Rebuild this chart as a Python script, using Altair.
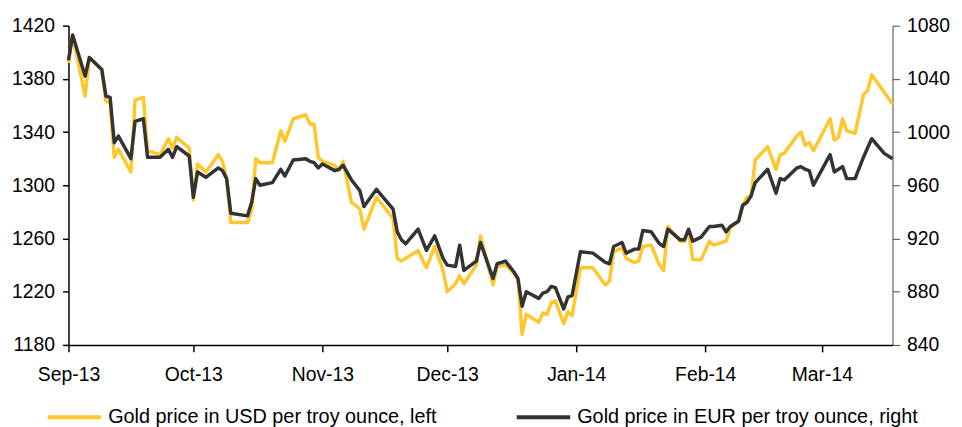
import altair as alt
import pandas as pd

USD_LABEL = "Gold price in USD per troy ounce, left"
EUR_LABEL = "Gold price in EUR per troy ounce, right"

dates = [
    "2013-09-01", "2013-09-02", "2013-09-05", "2013-09-06", "2013-09-09", "2013-09-10",
    "2013-09-11", "2013-09-12", "2013-09-13", "2013-09-16", "2013-09-17", "2013-09-19",
    "2013-09-20", "2013-09-23", "2013-09-25", "2013-09-26", "2013-09-27", "2013-09-30",
    "2013-10-01", "2013-10-02", "2013-10-04", "2013-10-07", "2013-10-08", "2013-10-09",
    "2013-10-10", "2013-10-14", "2013-10-15", "2013-10-16", "2013-10-17", "2013-10-20",
    "2013-10-22", "2013-10-23", "2013-10-25", "2013-10-28", "2013-10-29", "2013-10-30",
    "2013-10-31", "2013-11-01", "2013-11-04", "2013-11-05", "2013-11-06", "2013-11-08",
    "2013-11-09", "2013-11-10", "2013-11-11", "2013-11-14", "2013-11-18", "2013-11-19",
    "2013-11-20", "2013-11-21", "2013-11-24", "2013-11-26", "2013-11-28", "2013-11-30",
    "2013-12-01", "2013-12-03", "2013-12-04", "2013-12-05", "2013-12-08", "2013-12-09",
    "2013-12-12", "2013-12-13", "2013-12-15", "2013-12-17", "2013-12-18", "2013-12-19",
    "2013-12-20", "2013-12-23", "2013-12-24", "2013-12-25", "2013-12-26", "2013-12-27",
    "2013-12-29", "2013-12-30", "2013-12-31", "2014-01-02", "2014-01-05", "2014-01-08",
    "2014-01-09", "2014-01-10", "2014-01-12", "2014-01-13", "2014-01-15", "2014-01-16",
    "2014-01-17", "2014-01-19", "2014-01-21", "2014-01-22", "2014-01-23", "2014-01-26",
    "2014-01-27", "2014-01-28", "2014-01-29", "2014-01-31", "2014-02-02", "2014-02-03",
    "2014-02-05", "2014-02-06", "2014-02-07", "2014-02-09", "2014-02-10", "2014-02-11",
    "2014-02-12", "2014-02-13", "2014-02-16", "2014-02-18", "2014-02-19", "2014-02-20",
    "2014-02-23", "2014-02-24", "2014-02-25", "2014-02-26", "2014-02-27", "2014-03-03",
    "2014-03-04", "2014-03-05", "2014-03-06", "2014-03-07", "2014-03-09", "2014-03-11",
    "2014-03-12", "2014-03-13", "2014-03-16", "2014-03-18",
]

usd = [
    1392, 1413, 1367, 1396, 1387, 1363,
    1362, 1321, 1327, 1310, 1364, 1366,
    1326, 1323, 1335, 1328, 1336, 1328,
    1289, 1316, 1310, 1323, 1318, 1305,
    1272, 1272, 1281, 1320, 1317, 1317,
    1341, 1333, 1350, 1353, 1346, 1346,
    1321, 1318, 1315, 1311, 1318, 1287,
    1285, 1282, 1267, 1291, 1275, 1245,
    1243, 1245, 1251, 1238, 1254, 1236,
    1220, 1226, 1232, 1226, 1240, 1262,
    1225, 1239, 1240, 1234, 1229, 1188,
    1203, 1197, 1204, 1203, 1212, 1213,
    1196, 1205, 1202, 1238, 1238, 1225,
    1228, 1250, 1253, 1245, 1242, 1243,
    1254, 1255, 1240, 1236, 1269, 1258,
    1258, 1266, 1244, 1244, 1258, 1255,
    1257, 1258, 1268, 1273, 1285, 1291,
    1291, 1319, 1329, 1312, 1323, 1324,
    1337, 1340, 1330, 1332, 1326, 1350,
    1334, 1336, 1350, 1341, 1339, 1368,
    1371, 1383, 1370, 1361,
]

eur = [
    1054, 1073, 1042, 1056, 1047, 1027,
    1026, 992, 997, 980, 1008, 1010,
    981, 981, 987, 981, 989, 982,
    951, 970, 966, 973, 971, 965,
    939, 937, 947, 965, 960, 962,
    972, 967, 979, 980, 978, 977,
    973, 976, 971, 972, 975, 964,
    960, 956, 944, 957, 942, 925,
    919, 916, 927, 911, 922, 905,
    900, 899, 915, 896, 903, 917,
    890, 901, 903, 895, 890, 869,
    880, 875, 879, 880, 884, 883,
    867, 876, 877, 910, 909, 902,
    901, 914, 917, 909, 912, 912,
    926, 925, 916, 914, 927, 919,
    919, 927, 918, 921, 929, 929,
    930, 925, 929, 933, 945, 947,
    952, 962, 972, 954, 965, 964,
    973, 974, 972, 971, 960, 983,
    970, 972, 974, 965, 965, 981,
    988, 995, 984, 980,
]

usd_ticks = [1180, 1220, 1260, 1300, 1340, 1380, 1420]
eur_ticks = [840, 880, 920, 960, 1000, 1040, 1080]
month_ticks = [(2013, 9), (2013, 10), (2013, 11), (2013, 12), (2014, 1), (2014, 2), (2014, 3)]

FONT = "Liberation Sans"
YELLOW = "#FFC72C"
DARK = "#333333"

ts = [d + "T00:00:00" for d in dates]
long_df = pd.concat([
    pd.DataFrame({"date": ts, "value": usd, "series": USD_LABEL}),
    pd.DataFrame({"date": ts, "value": eur, "series": EUR_LABEL}),
], ignore_index=True)

x_enc = alt.X(
    "date:T",
    scale=alt.Scale(domain=[alt.DateTime(year=2013, month=9, date=1),
                            alt.DateTime(year=2014, month=3, date=18)]),
    axis=alt.Axis(
        values=[alt.DateTime(year=y, month=m, date=1) for y, m in month_ticks],
        format="%b-%y", title=None, grid=False, tickSize=7, labelPadding=14,
        labelFontSize=19.5, labelFont=FONT, labelColor="black",
        domainColor="black", tickColor="black", domainWidth=1.5, tickWidth=1.5,
        labelFlush=False, labelOverlap=False,
    ),
)

color_enc = alt.Color(
    "series:N",
    scale=alt.Scale(domain=[USD_LABEL, EUR_LABEL], range=[YELLOW, DARK]),
    legend=alt.Legend(
        orient="none", legendX=-23, legendY=366, direction="horizontal", columns=2,
        title=None, symbolType="stroke", symbolSize=2916, symbolStrokeWidth=4,
        labelFontSize=20, labelFont=FONT, labelColor="black", labelLimit=1000,
        labelOffset=5, columnPadding=72, padding=0,
    ),
)

base = alt.Chart(long_df)

usd_line = base.transform_filter(alt.datum.series == USD_LABEL).mark_line(
    strokeWidth=3.5, strokeJoin="round"
).encode(
    x=x_enc,
    y=alt.Y("value:Q",
            scale=alt.Scale(domain=[1180, 1420], nice=False, zero=False),
            axis=alt.Axis(values=usd_ticks, format="d", title=None, grid=False, orient="left",
                          tickSize=6, labelPadding=8, labelFontSize=19.5, labelFont=FONT,
                          labelColor="black", domainColor="black", tickColor="black",
                          domainWidth=1.5, tickWidth=1.5)),
    color=color_enc,
)

eur_line = base.transform_filter(alt.datum.series == EUR_LABEL).mark_line(
    strokeWidth=3.5, strokeJoin="round"
).encode(
    x=x_enc,
    y=alt.Y("value:Q",
            scale=alt.Scale(domain=[840, 1080], nice=False, zero=False),
            axis=alt.Axis(values=eur_ticks, format="d", title=None, grid=False, orient="right",
                          tickSize=7, labelPadding=7, labelFontSize=19.5, labelFont=FONT,
                          labelColor="black", domainColor="#444444", tickColor="#444444",
                          domainWidth=1, tickWidth=1)),
    color=color_enc,
)

chart = alt.layer(usd_line, eur_line).resolve_scale(y="independent").properties(
    width=831, height=322,
    padding={"left": 61, "top": 16, "right": 62, "bottom": 81},
    autosize=alt.AutoSizeParams(type="none"),
    background="white",
).configure_view(stroke=None)

chart.save("out.html", embed_options={"renderer": "svg", "actions": False})
